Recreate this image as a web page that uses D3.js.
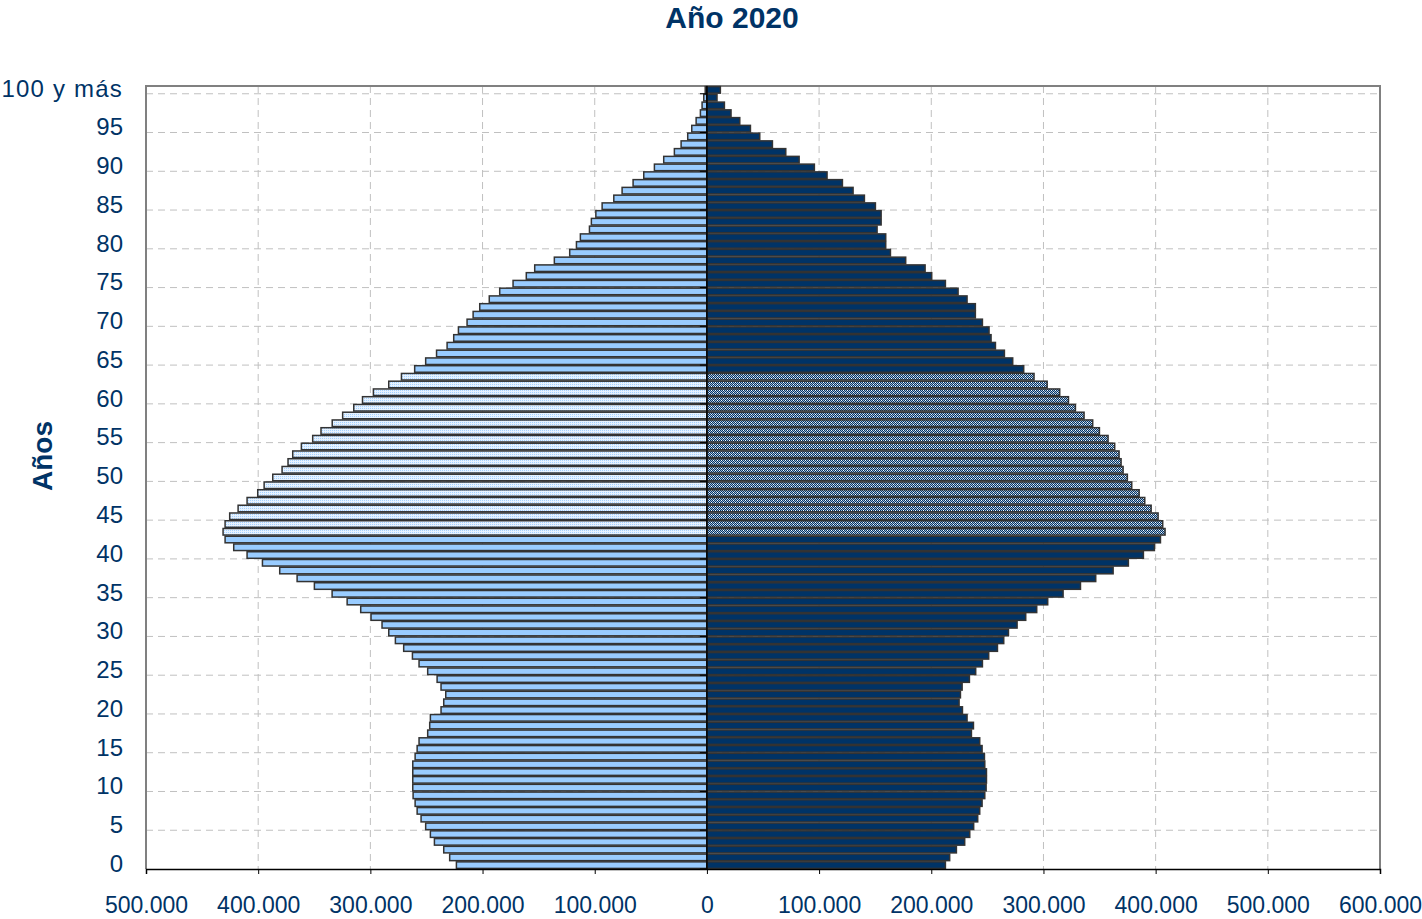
<!DOCTYPE html>
<html lang="es">
<head>
<meta charset="utf-8">
<title>Año 2020</title>
<script src="https://cdn.jsdelivr.net/npm/d3@7"></script>
<style>
  body { margin: 0; background: #fff; }
  text { font-family: "Liberation Sans", Arial, sans-serif; fill: #003366; }
</style>
</head>
<body>
<script>

// edades 0..100 (la última es "100 y más")
var edades = d3.range(0, 101);

var etiquetasEdad = ["0", "5", "10", "15", "20", "25", "30", "35", "40", "45", "50",
                     "55", "60", "65", "70", "75", "80", "85", "90", "95", "100 y más"];

var ticksX = [-500000, -400000, -300000, -200000, -100000, 0, 100000, 200000, 300000, 400000, 500000, 600000];

// generación destacada (barras con trama)
var tramaDesde = 43, tramaHasta = 63;

// hombres (izquierda), edad 0 .. 100
var hombres = [223300, 229300, 234600, 242900, 246500, 250700, 254800, 258300, 260100, 261900,
               262200, 262200, 262200, 262200, 260100, 258300, 256600, 248900, 247100, 246500,
               237000, 234600, 232800, 237000, 240500, 248900, 256600, 262500, 270300, 277700,
               283600, 289600, 299400, 308600, 320700, 334100, 349900, 365300, 380800, 396200,
               409900, 421800, 429500, 431300, 429500, 425400, 417900, 409900, 400400, 394700,
               387000, 378700, 373400, 369200, 361500, 351400, 344000, 334000, 324700, 314800,
               307000, 297300, 283600, 272300, 260500, 250700, 241000, 231600, 225700, 221500,
               213800, 208400, 202500, 194000, 184700, 172800, 161000, 153500, 136000, 122300,
               116300, 112800, 104700, 103000, 99000, 93400, 83000, 75600, 65800, 56300,
               46800, 38500, 29000, 23000, 17100, 13500, 9600, 5800, 4300, 2800,
               1500];

// mujeres (derecha), edad 0 .. 100
var mujeres = [212600, 216400, 222400, 229800, 234300, 237800, 241400, 243200, 245300, 247700,
               248900, 249200, 249200, 247700, 247400, 245300, 243200, 235800, 237600, 231900,
               227800, 224800, 226000, 227500, 234000, 239600, 245600, 251200, 259000, 264600,
               268800, 276500, 284200, 294000, 303800, 317500, 333000, 346600, 362100, 375700,
               389100, 398900, 404300, 408400, 406300, 402200, 396000, 390300, 385300, 378700,
               374800, 371000, 369200, 367400, 363500, 357600, 349900, 343900, 336200, 328500,
               322300, 314500, 303300, 291600, 282400, 272600, 265200, 257200, 253300, 251500,
               245600, 239300, 239300, 231900, 223900, 212600, 200400, 194500, 177200, 163600,
               159400, 159400, 151700, 155300, 155300, 150200, 140400, 130300, 120800, 107100,
               95800, 82200, 70300, 58400, 47100, 38800, 29300, 21500, 15600, 9000,
               12000];

var W = 1422, H = 919;
var plot = {left: 146, right: 1380, top: 86, bottom: 869};

var svg = d3.select("body").append("svg")
    .attr("width", W)
    .attr("height", H);

var xScale = d3.scaleLinear()
    .domain([-500000, 600000])
    .range([plot.left, plot.right]);

var yScale = d3.scaleBand()
    .domain(edades)
    .range([plot.bottom, plot.top])
    .padding(0);

var bw = yScale.bandwidth();

var es = d3.formatLocale({decimal: ",", thousands: ".", grouping: [3], currency: ["", "€"]});
var fmt = es.format(",");

// tramas
var defs = svg.append("defs");

var pH = defs.append("pattern")
    .attr("id", "tramaH")
    .attr("patternUnits", "userSpaceOnUse")
    .attr("width", 2).attr("height", 2);
pH.append("rect").attr("width", 2).attr("height", 2).attr("fill", "#e6f2ff");
pH.append("rect").attr("width", 1).attr("height", 1).attr("fill", "#a6d2ff");

var pM = defs.append("pattern")
    .attr("id", "tramaM")
    .attr("patternUnits", "userSpaceOnUse")
    .attr("width", 4).attr("height", 4);
pM.append("rect").attr("width", 4).attr("height", 4).attr("fill", "#003366");
[[1, 0, "#ffffff"], [3, 0, "#a9bdd5"], [0, 1, "#a9bdd5"], [2, 1, "#a9bdd5"],
 [1, 2, "#a9bdd5"], [3, 2, "#ffffff"], [0, 3, "#a9bdd5"], [2, 3, "#a9bdd5"]].forEach(function(p) {
    pM.append("rect").attr("x", p[0]).attr("y", p[1]).attr("width", 1).attr("height", 1).attr("fill", p[2]);
});

// rejilla
var grid = svg.append("g");

grid.selectAll(".gx")
    .data(ticksX.filter(function(d) { return d !== 0 && d !== -500000 && d !== 600000; }))
    .enter().append("line")
    .attr("x1", function(d) { return xScale(d); })
    .attr("x2", function(d) { return xScale(d); })
    .attr("y1", plot.top)
    .attr("y2", plot.bottom)
    .attr("stroke", "#c0c0c0")
    .attr("stroke-dasharray", "7,5");

grid.selectAll(".gy")
    .data(edades.filter(function(d) { return d > 0 && d % 5 === 0; }))
    .enter().append("line")
    .attr("x1", plot.left)
    .attr("x2", plot.right)
    .attr("y1", function(d) { return yScale(d) + bw; })
    .attr("y2", function(d) { return yScale(d) + bw; })
    .attr("stroke", "#c0c0c0")
    .attr("stroke-dasharray", "7,5");

// marco
svg.append("path")
    .attr("d", "M" + plot.left + "," + plot.bottom + "V" + plot.top + "H" + plot.right + "V" + plot.bottom)
    .attr("fill", "none")
    .attr("stroke", "#808080")
    .attr("stroke-width", 2);

function enTrama(a) { return a >= tramaDesde && a <= tramaHasta; }

// barras
var barras = svg.append("g")
    .attr("stroke", "#333333")
    .attr("stroke-width", 1.5);

barras.selectAll(".h")
    .data(edades)
    .enter().append("rect")
    .attr("x", function(a) { return xScale(-hombres[a]); })
    .attr("width", function(a) { return xScale(0) - xScale(-hombres[a]); })
    .attr("y", function(a) { return yScale(a) + 0.6; })
    .attr("height", bw - 1.2)
    .attr("fill", function(a) { return enTrama(a) ? "url(#tramaH)" : "#99ccff"; });

barras.selectAll(".m")
    .data(edades)
    .enter().append("rect")
    .attr("x", xScale(0))
    .attr("width", function(a) { return xScale(mujeres[a]) - xScale(0); })
    .attr("y", function(a) { return yScale(a) + 0.6; })
    .attr("height", bw - 1.2)
    .attr("fill", function(a) { return enTrama(a) ? "url(#tramaM)" : "#003366"; });

// eje central
svg.append("line")
    .attr("x1", xScale(0)).attr("x2", xScale(0))
    .attr("y1", plot.top).attr("y2", plot.bottom)
    .attr("stroke", "#000")
    .attr("stroke-width", 1.5);

svg.selectAll(".ty")
    .data(edades.filter(function(d) { return d % 5 === 0; }))
    .enter().append("line")
    .attr("x1", xScale(0) - 7).attr("x2", xScale(0))
    .attr("y1", function(d) { return yScale(d) + bw; })
    .attr("y2", function(d) { return yScale(d) + bw; })
    .attr("stroke", "#000");

// eje x
var xAxis = d3.axisBottom(xScale)
    .tickValues(ticksX)
    .tickSize(5)
    .tickPadding(23)
    .tickFormat(function(d) { return fmt(Math.abs(d)); });

var gx = svg.append("g")
    .attr("transform", "translate(0," + plot.bottom + ")")
    .call(xAxis);
gx.select(".domain").attr("stroke", "#000").attr("stroke-width", 1.5);
gx.selectAll(".tick line").attr("stroke", "#000");
gx.selectAll(".tick text")
    .attr("font-size", 23)
    .attr("font-family", null)
    .attr("fill", "#003366");

// etiquetas de edad
svg.selectAll(".ly")
    .data(edades.filter(function(d) { return d % 5 === 0; }))
    .enter().append("text")
    .attr("x", 123)
    .attr("y", function(d) { return yScale(d) + bw / 2; })
    .attr("dy", "0.28em")
    .attr("text-anchor", "end")
    .attr("font-size", 24)
    .attr("letter-spacing", function(d) { return d === 100 ? "1.2px" : null; })
    .text(function(d, i) { return etiquetasEdad[i]; });

// títulos
svg.append("text")
    .attr("x", 732)
    .attr("y", 28)
    .attr("text-anchor", "middle")
    .attr("font-size", 30)
    .attr("font-weight", "bold")
    .text("Año 2020");

svg.append("text")
    .attr("transform", "translate(52,456) rotate(-90)")
    .attr("text-anchor", "middle")
    .attr("font-size", 28)
    .attr("font-weight", "bold")
    .text("Años");

</script>
</body>
</html>
